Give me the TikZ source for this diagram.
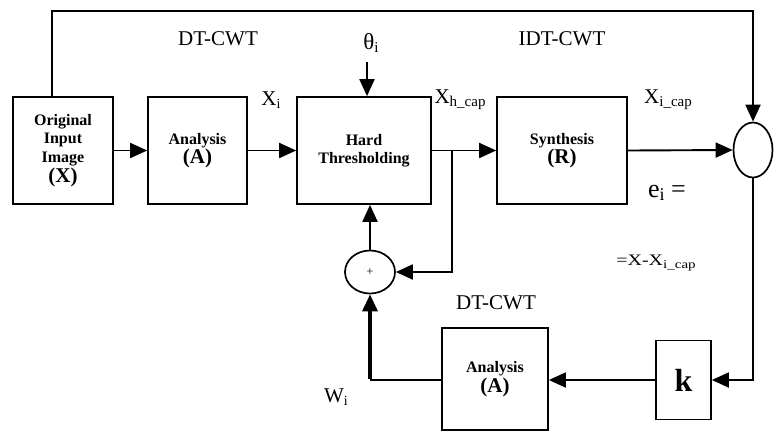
\documentclass[tikz,border=0pt]{standalone}
\usepackage{fontspec}
\setmainfont{Liberation Serif}
\usetikzlibrary{arrows.meta,shapes.geometric}
\newcommand{\lsub}[2][15]{\raisebox{-3pt}{\fontsize{#1}{#1}\selectfont #2}}
\begin{document}
\begin{tikzpicture}[x=1pt,y=-1pt,
  box/.style={draw,line width=1.7pt,rectangle,inner sep=0pt,align=center,
    font=\fontsize{16}{18.5}\selectfont\bfseries},
  arr/.style={line width=1.9pt,-{Triangle[length=17pt,width=15pt]}},
  plain/.style={line width=1.9pt},
  lab/.style={inner sep=0pt,font=\fontsize{21}{24}\selectfont}]
\useasboundingbox (0,0) rectangle (778,432);

% boxes
\node[box,minimum width=100pt,minimum height=107pt] (orig) at (63,150.5)
  {Original\\Input\\Image\\[2pt]{\fontsize{21}{21}\selectfont(X)}};
\node[box,minimum width=99pt,minimum height=107pt] (anaA) at (197.5,150.5)
  {Analysis\\[1pt]{\fontsize{21}{21}\selectfont(A)}};
\node[box,minimum width=134pt,minimum height=107pt] (hard) at (364,150.5)
  {Hard\\Thresholding};
\node[box,minimum width=130pt,minimum height=107pt] (synth) at (562,150.5)
  {Synthesis\\[1pt]{\fontsize{21}{21}\selectfont(R)}};
\node[box,minimum width=106pt,minimum height=102pt] (anaB) at (495,379)
  {Analysis\\[2pt]{\fontsize{21}{21}\selectfont(A)}};
\node[box,minimum width=55pt,minimum height=79pt,font=\fontsize{32}{32}\selectfont\bfseries] (k) at (683.5,380) {k};

% circles
\node[draw,ellipse,line width=1.7pt,minimum width=39pt,minimum height=55pt,inner sep=0pt] (sum) at (753,150) {};
\node[draw,ellipse,line width=1.7pt,minimum width=50pt,minimum height=43pt,inner sep=0pt,
  font=\fontsize{12}{12}\selectfont] (plus) at (370,272) {\raisebox{-3pt}{+}};

% labels
\node[lab] (dt1) at (218,39) {DT-CWT};
\node[lab] (idt) at (562,39) {IDT-CWT};
\node[lab,font=\fontsize{23}{24}\selectfont] (theta) at (371,43) {θ\lsub{i}};
\node[lab] (xi) at (271,100) {X\lsub[14]{i}};
\node[lab] (xh) at (460,100) {X\lsub{h\_cap}};
\node[lab] (xic) at (668,100) {X\lsub{i\_cap}};
\node[lab,font=\fontsize{26}{26}\selectfont] (ei) at (667,193) {e\lsub[18]{i} =};
\node[lab,font=\fontsize{16}{16}\selectfont] (eq) at (656,263) {\scalebox{1.25}[1]{=X-X\lsub[12]{i\_cap}}};
\node[lab] (dt2) at (496,303) {DT-CWT};
\node[lab] (wi) at (336,397) {W\lsub[14]{i}};

% coordinates
\coordinate (tl) at (52,11);
\coordinate (thetaend) at (367,62);
\coordinate (br) at (452,150);
\coordinate (cr) at (plus.south |- k.west);

% connectors
\draw[arr] (orig.east) -- (anaA.west);
\draw[arr] (anaA.east) -- (hard.west);
\draw[arr] (hard.east) -- (synth.west);
\draw[arr] (synth.east) -- (sum.west);
\draw[arr] (tl |- orig.north) -- (tl) -| (sum.north);
\draw[arr] (thetaend) -- (thetaend |- hard.north);
\draw[arr] (br) |- (plus.east);
\draw[arr] (plus.north) -- (plus.north |- hard.south);
\draw[arr] (sum.south) |- (k.east);
\draw[arr] (k.west) -- (k.west -| anaB.east);
\draw[plain] (k.west -| anaB.west) -- (cr);
\draw[line width=3.3pt,-{Triangle[length=17pt,width=15pt]}] ([yshift=0.95pt]cr) -- (plus.south);
\end{tikzpicture}
\end{document}
